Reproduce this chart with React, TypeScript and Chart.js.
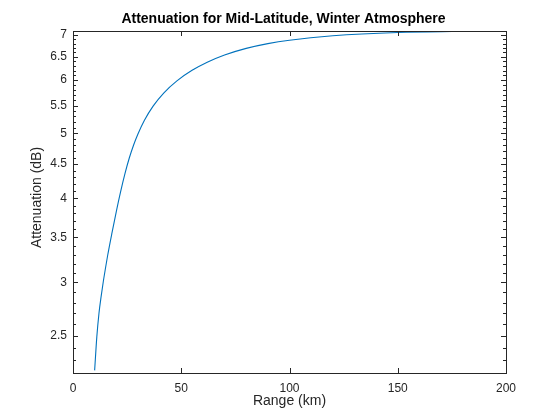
import { useEffect, useRef } from "react";
import { Chart, registerables } from "chart.js";

Chart.register(...registerables);

// Data
const rangeKm = [10, 11, 12, 13, 14, 15, 16, 18, 20, 22, 24, 26, 28, 30, 33, 37, 42, 48, 55, 62, 70, 80, 90, 100, 120, 150, 175, 200];
const attenuationDb = [2.22, 2.49, 2.7, 2.86, 3.01, 3.15, 3.29, 3.555, 3.825, 4.095, 4.355, 4.595, 4.805, 4.99, 5.23, 5.49, 5.745, 5.985, 6.205, 6.38, 6.54, 6.69, 6.8, 6.88, 6.985, 7.065, 7.088, 7.097];

const xTickValues = [0, 50, 100, 150, 200];
const yTickLabels = [2.5, 3, 3.5, 4, 4.5, 5, 5.5, 6, 6.5, 7];
const yMinorTicks = [2.3, 2.4, 2.6, 2.7, 2.8, 2.9, 3.1, 3.2, 3.3, 3.4, 3.6, 3.7, 3.8, 3.9, 4.1, 4.2, 4.3, 4.4, 4.6, 4.7, 4.8, 4.9, 5.1, 5.2, 5.3, 5.4, 5.6, 5.7, 5.8, 5.9, 6.1, 6.2, 6.3, 6.4, 6.6, 6.7, 6.8, 6.9];

const titleText = "Attenuation for Mid-Latitude, Winter Atmosphere";
const xTitle = "Range (km)";
const yTitle = "Attenuation (dB)";

const FONT = "'Liberation Sans', Arial, Helvetica, sans-serif";
const AXIS = "#262626";
const LINE = "#0072BD";

const isMajor = (v: number) => yTickLabels.some((t) => Math.abs(t - v) < 1e-9);

const frameAndTicks = {
  id: "frameAndTicks",
  afterDatasetsDraw(chart: any) {
    const { ctx, chartArea, scales } = chart;
    const { left, right, top, bottom } = chartArea;
    const x = scales.x;
    const y = scales.y;
    ctx.save();
    ctx.strokeStyle = AXIS;
    ctx.lineWidth = 1;
    ctx.beginPath();
    for (const v of xTickValues) {
      const px = Math.round(x.getPixelForValue(v)) + 0.5;
      ctx.moveTo(px, bottom);
      ctx.lineTo(px, bottom - 5);
      ctx.moveTo(px, top);
      ctx.lineTo(px, top + 5);
    }
    for (const v of yTickLabels) {
      const py = Math.round(y.getPixelForValue(v)) + 0.5;
      ctx.moveTo(left, py);
      ctx.lineTo(left + 5, py);
      ctx.moveTo(right, py);
      ctx.lineTo(right - 5, py);
    }
    for (const v of yMinorTicks) {
      const py = Math.round(y.getPixelForValue(v)) + 0.5;
      ctx.moveTo(left, py);
      ctx.lineTo(left + 3, py);
      ctx.moveTo(right, py);
      ctx.lineTo(right - 3, py);
    }
    ctx.stroke();
    ctx.strokeRect(Math.round(left) + 0.5, Math.round(top) + 0.5, Math.round(right - left), Math.round(bottom - top));
    // title
    ctx.fillStyle = "#000";
    ctx.font = `bold 14px ${FONT}`;
    ctx.textAlign = "center";
    ctx.textBaseline = "middle";
    ctx.fillText(titleText, 283.5, 19.5);
    // y-axis title
    ctx.fillStyle = AXIS;
    ctx.font = `14px ${FONT}`;
    ctx.translate(37.5, 197.5);
    ctx.rotate(-Math.PI / 2);
    ctx.fillText(yTitle, 0, 0);
    ctx.restore();
  },
};

export default function App() {
  const ref = useRef<HTMLCanvasElement>(null);
  useEffect(() => {
    const chart = new Chart(ref.current!, {
      type: "line",
      data: {
        datasets: [
          {
            data: rangeKm.map((r, i) => ({ x: r, y: attenuationDb[i] })),
            borderColor: LINE,
            borderWidth: 1.1,
            pointRadius: 0,
            fill: false,
            cubicInterpolationMode: "monotone",
          },
        ],
      },
      options: {
        animation: false,
        responsive: false,
        devicePixelRatio: 1,
        layout: { padding: { left: 0, right: 54, top: 31, bottom: 0 } },
        plugins: {
          legend: { display: false },
          tooltip: { enabled: false },
          title: { display: false },
        },
        scales: {
          x: {
            type: "linear",
            min: 0,
            max: 200,
            afterBuildTicks: (s: any) => {
              s.ticks = xTickValues.map((v) => ({ value: v }));
            },
            afterFit: (s: any) => {
              s.height = 47;
            },
            ticks: {
              autoSkip: false,
              maxRotation: 0,
              padding: 8,
              color: AXIS,
              font: { family: FONT, size: 12 },
            },
            grid: { display: false, drawTicks: false },
            border: { display: false },
            title: {
              display: true,
              text: xTitle,
              color: AXIS,
              font: { family: FONT, size: 14 },
              padding: { top: 0, bottom: 10 },
            },
          },
          y: {
            type: "logarithmic",
            min: 2.22,
            max: 7.1,
            afterBuildTicks: (s: any) => {
              const all = [...yTickLabels, ...yMinorTicks].sort((a, b) => a - b);
              s.ticks = all.map((v) => ({ value: v }));
            },
            afterFit: (s: any) => {
              s.width = 73;
            },
            ticks: {
              autoSkip: false,
              padding: 6,
              color: AXIS,
              font: { family: FONT, size: 12 },
              callback: (v: any) => (isMajor(Number(v)) ? String(Number(v)) : ""),
            },
            grid: { display: false, drawTicks: false },
            border: { display: false },
            title: { display: false },
          },
        },
      },
      plugins: [frameAndTicks],
    } as any);
    return () => chart.destroy();
  }, []);
  return (
    <div style={{ position: "absolute", left: 0, top: 0, width: 560, height: 420, background: "#fff" }}>
      <canvas ref={ref} width={560} height={420} style={{ width: 560, height: 420, display: "block" }} />
    </div>
  );
}
